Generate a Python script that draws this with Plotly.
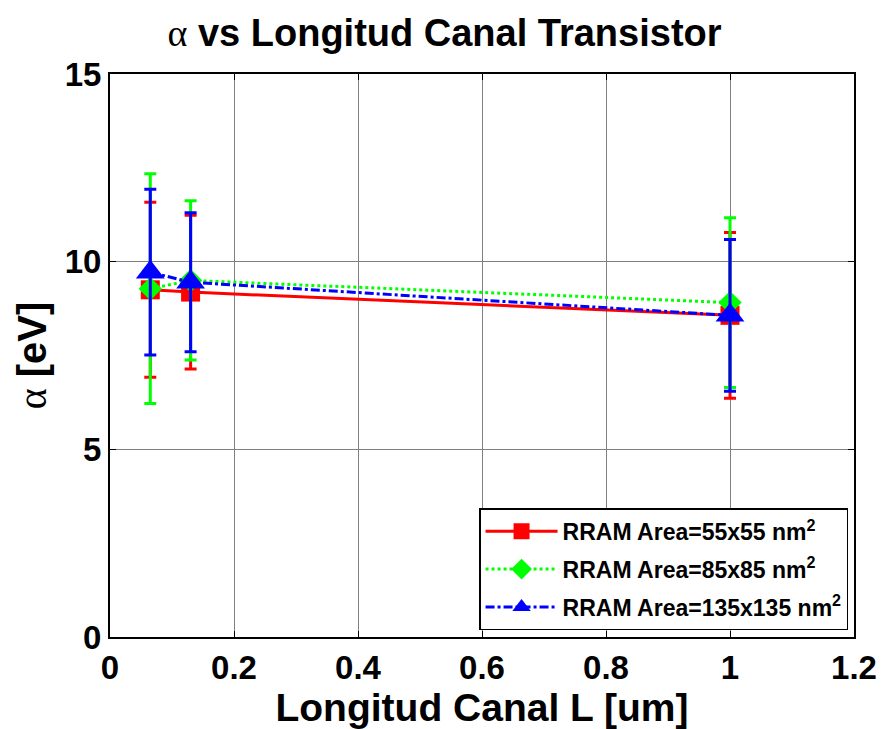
import plotly.graph_objects as go

L = [0.065, 0.13, 1.0]
names = ["RRAM Area=55x55 nm<sup>2</sup>", "RRAM Area=85x85 nm<sup>2</sup>", "RRAM Area=135x135 nm<sup>2</sup>"]
alpha_55 = [9.25, 9.19, 8.57]
err_55 = [2.33, 2.05, 2.21]
alpha_85 = [9.28, 9.50, 8.91]
err_85 = [3.06, 2.12, 2.26]
alpha_135 = [9.72, 9.45, 8.57]
err_135 = [2.21, 1.85, 2.02]

colors = ["#ff0000", "#00ff00", "#0000ff"]
dashes = ["solid", "dot", "dashdot"]
symbols = ["square", "diamond", "triangle-up"]
msizes = [19, 18, 25]

FONT = "Liberation Sans, Arial"

fig = go.Figure()
for i, (name, y, e, c, d, s, ms) in enumerate(zip(names, [alpha_55, alpha_85, alpha_135],
                                   [err_55, err_85, err_135], colors, dashes, symbols, msizes)):
    fig.add_trace(go.Scatter(
        x=L, y=y, name=name, mode="lines+markers", legendgroup=str(i),
        line=dict(color=c, width=3, dash=d),
        marker=dict(symbol=s, size=ms, color=c, line=dict(width=0)),
        error_y=dict(type="data", array=e, visible=True, color=c, thickness=3, width=6),
    ))

axis_common = dict(
    showline=True, linecolor="black", linewidth=2, mirror="ticks",
    ticks="inside", ticklen=6, tickcolor="black",
    showgrid=True, gridcolor="#808080", gridwidth=1, zeroline=False,
    tickfont=dict(family=FONT, size=33, color="black", weight="bold"),
)

fig.update_layout(
    width=889, height=729,
    margin=dict(l=110, r=31, t=74, b=92),
    paper_bgcolor="white", plot_bgcolor="white",
    title=dict(text="<span style='font-family:Liberation Serif;font-weight:normal'>α</span> vs Longitud Canal Transistor",
               x=0.5, xanchor="center", y=0.955, yanchor="middle",
               font=dict(family=FONT, size=38, color="black", weight="bold")),
    xaxis=dict(range=[0, 1.2], tickvals=[0, 0.2, 0.4, 0.6, 0.8, 1, 1.2],
               ticktext=["0", "0.2", "0.4", "0.6", "0.8", "1", "1.2"],
               title=dict(text="Longitud Canal L [um]", standoff=0,
                          font=dict(family=FONT, size=39, color="black", weight="bold")),
               **axis_common),
    yaxis=dict(range=[0, 15], tickvals=[0, 5, 10, 15],
               title=dict(text="<span style='font-family:Liberation Serif;font-weight:normal'>α</span> [eV]", standoff=6,
                          font=dict(family=FONT, size=40, color="black", weight="bold")),
               **axis_common),
    legend=dict(x=0.992, xanchor="right", y=0.012, yanchor="bottom",
                bgcolor="white", bordercolor="black", borderwidth=1.5,
                font=dict(family=FONT, size=23, color="black", weight="bold"),
                itemwidth=72, tracegroupgap=5, traceorder="grouped"),
    showlegend=True,
)

fig.write_html("out.html")
